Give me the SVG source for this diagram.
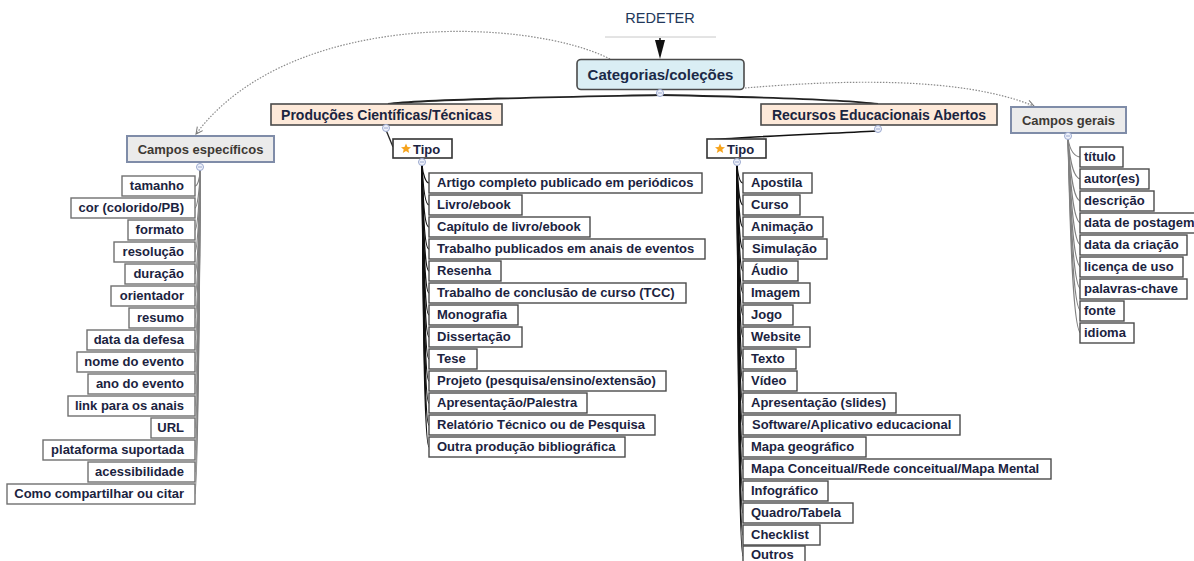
<svg xmlns="http://www.w3.org/2000/svg" width="1194" height="561" viewBox="0 0 1194 561">
<defs>
<style>
text{font-family:"Liberation Sans",Arial,sans-serif;}
.leaf rect{fill:#fff;stroke:#4a4a4a;stroke-width:1.4;}
.leaf text{font-size:13px;font-weight:bold;fill:#1b2340;}
.lt text{text-anchor:end;}
.lt rect{stroke:#707070;}
.hdr rect{fill:#fde9d9;stroke:#4a4a4a;stroke-width:1.6;}
.hdr text{font-size:14px;font-weight:bold;fill:#1a2440;text-anchor:middle;}
.cmp rect{fill:#ebebeb;stroke:#7f8ca8;stroke-width:2;}
.cmp text{font-size:13px;font-weight:bold;fill:#3d3934;text-anchor:middle;}
.tipo rect{fill:#fff;stroke:#333;stroke-width:1.6;}
.tipo text{font-size:13px;font-weight:bold;fill:#1b2340;}
.star{fill:#f6a31c;}
.knob{fill:#eef1fa;stroke:#9aa8cf;stroke-width:1;}
.knobm{stroke:#9aa8cf;stroke-width:1;}
.fg{fill:none;stroke:#808080;stroke-width:1.1;}
.fb{fill:none;stroke:#111;stroke-width:1.2;}
.dot{fill:none;stroke:#8a8a8a;stroke-width:1.2;stroke-dasharray:1.5 1.5;}
</style>
<marker id="ah" viewBox="0 0 10 10" refX="9" refY="5" markerWidth="7" markerHeight="7" orient="auto">
<path d="M1,1 L9,5 L1,9" fill="none" stroke="#777" stroke-width="1.2"/>
</marker>
</defs>

<g id="connectors">
<line x1="605" y1="37" x2="716" y2="37" stroke="#c8c8c8" stroke-width="1"/>
<path d="M660,38 L660,44" stroke="#111" stroke-width="1.5"/>
<path d="M655,40 L665,40 L660,59 Z" fill="#111"/>
<path class="dot" d="M610,59 C 530,18 290,8 196,134" marker-end="url(#ah)"/>
<path class="dot" d="M745,88 C 840,80 960,76 1034,106" marker-end="url(#ah)"/>
<path d="M660,95 C 560,97 420,99 388,104" fill="none" stroke="#222" stroke-width="1.8"/>
<path d="M660,95 C 760,97 850,100 878,104" fill="none" stroke="#222" stroke-width="1.8"/>
<path d="M386,130 L393,147" fill="none" stroke="#222" stroke-width="1.3"/>
<path d="M877,131 C 820,134 740,137 712,140" fill="none" stroke="#111" stroke-width="1.6"/>
<g id="fan-left">
<path class="fg" d="M200,170 C 200,180 197,186 195,186"/>
<path class="fg" d="M200,170 C 200,190 197,208 195,208"/>
<path class="fg" d="M200,170 C 200,200 197,230 195,230"/>
<path class="fg" d="M200,170 C 200,210 197,252 195,252"/>
<path class="fg" d="M200,170 C 200,220 197,274 195,274"/>
<path class="fg" d="M200,170 C 200,230 197,296 195,296"/>
<path class="fg" d="M200,170 C 200,240 197,318 195,318"/>
<path class="fg" d="M200,170 C 200,250 197,340 195,340"/>
<path class="fg" d="M200,170 C 200,260 197,362 195,362"/>
<path class="fg" d="M200,170 C 200,270 197,384 195,384"/>
<path class="fg" d="M200,170 C 200,280 197,406 195,406"/>
<path class="fg" d="M200,170 C 200,290 197,428 195,428"/>
<path class="fg" d="M200,170 C 200,300 197,450 195,450"/>
<path class="fg" d="M200,170 C 200,310 197,472 195,472"/>
<path class="fg" d="M200,170 C 200,320 197,494 195,494"/>
</g>
<g id="fan-prod">
<path class="fb" d="M422,165 C 423,175 426,183 429,183"/>
<path class="fb" d="M422,165 C 423,185 425,205 429,205"/>
<path class="fb" d="M422,165 C 423,195 424,227 429,227"/>
<path class="fb" d="M422,165 C 423,205 424,249 429,249"/>
<path class="fb" d="M422,165 C 423,215 424,271 429,271"/>
<path class="fb" d="M422,165 C 423,225 424,293 429,293"/>
<path class="fb" d="M422,165 C 423,235 424,315 429,315"/>
<path class="fb" d="M422,165 C 423,245 424,337 429,337"/>
<path class="fb" d="M422,165 C 423,255 424,359 429,359"/>
<path class="fb" d="M422,165 C 423,265 424,381 429,381"/>
<path class="fb" d="M422,165 C 423,275 424,403 429,403"/>
<path class="fb" d="M422,165 C 423,285 424,425 429,425"/>
<path class="fb" d="M422,165 C 423,295 424,447 429,447"/>
</g>
<g id="fan-rea">
<path class="fb" d="M737,165 C 738,175 740,183 743,183"/>
<path class="fb" d="M737,165 C 738,185 739,205 743,205"/>
<path class="fb" d="M737,165 C 738,195 739,227 743,227"/>
<path class="fb" d="M737,165 C 738,205 739,249 743,249"/>
<path class="fb" d="M737,165 C 738,215 739,271 743,271"/>
<path class="fb" d="M737,165 C 738,225 739,293 743,293"/>
<path class="fb" d="M737,165 C 738,235 739,315 743,315"/>
<path class="fb" d="M737,165 C 738,245 739,337 743,337"/>
<path class="fb" d="M737,165 C 738,255 739,359 743,359"/>
<path class="fb" d="M737,165 C 738,265 739,381 743,381"/>
<path class="fb" d="M737,165 C 738,275 739,403 743,403"/>
<path class="fb" d="M737,165 C 738,285 739,425 743,425"/>
<path class="fb" d="M737,165 C 738,295 739,447 743,447"/>
<path class="fb" d="M737,165 C 738,305 739,469 743,469"/>
<path class="fb" d="M737,165 C 738,315 739,491 743,491"/>
<path class="fb" d="M737,165 C 738,325 739,513 743,513"/>
<path class="fb" d="M737,165 C 738,335 739,535 743,535"/>
<path class="fb" d="M737,165 C 738,345 739,556 743,556"/>
</g>
<g id="fan-gerais">
<path class="fg" d="M1068,139 C 1070,150 1074,157 1081,157"/>
<path class="fg" d="M1068,139 C 1070,160 1073,179 1081,179"/>
<path class="fg" d="M1068,139 C 1070,170 1073,201 1081,201"/>
<path class="fg" d="M1068,139 C 1070,180 1073,223 1081,223"/>
<path class="fg" d="M1068,139 C 1070,190 1073,245 1081,245"/>
<path class="fg" d="M1068,139 C 1070,200 1073,267 1081,267"/>
<path class="fg" d="M1068,139 C 1070,210 1073,289 1081,289"/>
<path class="fg" d="M1068,139 C 1070,220 1073,311 1081,311"/>
<path class="fg" d="M1068,139 C 1070,230 1073,333 1081,333"/>
</g>
</g>

<g id="title"><text x="660" y="23" font-size="14.5" fill="#22385a" text-anchor="middle">REDETER</text></g>

<g id="categorias">
<rect x="577" y="59.5" width="167" height="30" rx="4" fill="#daeef4" stroke="#4a4a4a" stroke-width="1.6"/>
<text x="660.5" y="80" font-size="15" font-weight="bold" fill="#1a2a48" text-anchor="middle">Categorias/coleções</text>
<circle class="knob" cx="660" cy="93" r="3.5"/><line class="knobm" x1="658" y1="93" x2="662" y2="93"/>
</g>

<g id="producoes" class="hdr">
<rect x="271" y="104" width="231" height="21"/>
<text x="386.5" y="120">Produções Científicas/Técnicas</text>
<circle class="knob" cx="386" cy="128" r="3.5"/><line class="knobm" x1="384" y1="128" x2="388" y2="128"/>
</g>
<g id="recursos" class="hdr">
<rect x="761" y="104" width="236" height="21"/>
<text x="879" y="120">Recursos Educacionais Abertos</text>
<circle class="knob" cx="878" cy="129" r="3.5"/><line class="knobm" x1="876" y1="129" x2="880" y2="129"/>
</g>
<g id="campos-especificos" class="cmp">
<rect x="127" y="136" width="147" height="26"/>
<text x="200.5" y="154">Campos específicos</text>
<circle class="knob" cx="200" cy="167" r="3.5"/><line class="knobm" x1="198" y1="167" x2="202" y2="167"/>
</g>
<g id="campos-gerais" class="cmp">
<rect x="1011" y="107" width="115" height="26"/>
<text x="1068.5" y="125">Campos gerais</text>
<circle class="knob" cx="1068" cy="136" r="3.5"/><line class="knobm" x1="1066" y1="136" x2="1070" y2="136"/>
</g>
<g id="tipo-prod" class="tipo">
<rect x="393" y="139" width="59" height="19"/>
<path class="star" d="M406,143.5 L407.5,147 L411,147.3 L408.3,149.6 L409.2,153 L406,151.1 L402.8,153 L403.7,149.6 L401,147.3 L404.5,147 Z"/>
<text x="413" y="153.5">Tipo</text>
<circle class="knob" cx="422" cy="162" r="3.5"/><line class="knobm" x1="420" y1="162" x2="424" y2="162"/>
</g>
<g id="tipo-rea" class="tipo">
<rect x="707" y="139" width="59" height="19"/>
<path class="star" d="M720,143.5 L721.5,147 L725,147.3 L722.3,149.6 L723.2,153 L720,151.1 L716.8,153 L717.7,149.6 L715,147.3 L718.5,147 Z"/>
<text x="727" y="153.5">Tipo</text>
<circle class="knob" cx="737" cy="162" r="3.5"/><line class="knobm" x1="735" y1="162" x2="739" y2="162"/>
</g>

<g id="especificos-children" class="leaf lt">
<g id="e1"><rect x="122" y="176" width="73" height="20"/><text x="184" y="190">tamanho</text></g>
<g id="e2"><rect x="71" y="198" width="124" height="20"/><text x="184" y="212">cor (colorido/PB)</text></g>
<g id="e3"><rect x="128" y="220" width="67" height="20"/><text x="184" y="234">formato</text></g>
<g id="e4"><rect x="114" y="242" width="81" height="20"/><text x="184" y="256">resolução</text></g>
<g id="e5"><rect x="125" y="264" width="70" height="20"/><text x="184" y="278">duração</text></g>
<g id="e6"><rect x="111" y="286" width="84" height="20"/><text x="184" y="300">orientador</text></g>
<g id="e7"><rect x="129" y="308" width="66" height="20"/><text x="184" y="322">resumo</text></g>
<g id="e8"><rect x="87" y="330" width="108" height="20"/><text x="184" y="344">data da defesa</text></g>
<g id="e9"><rect x="77" y="352" width="118" height="20"/><text x="184" y="366">nome do evento</text></g>
<g id="e10"><rect x="88" y="374" width="107" height="20"/><text x="184" y="388">ano do evento</text></g>
<g id="e11"><rect x="68" y="396" width="127" height="20"/><text x="184" y="410">link para os anais</text></g>
<g id="e12"><rect x="151" y="418" width="44" height="20"/><text x="184" y="432">URL</text></g>
<g id="e13"><rect x="43" y="440" width="152" height="20"/><text x="184" y="454">plataforma suportada</text></g>
<g id="e14"><rect x="88" y="462" width="107" height="20"/><text x="184" y="476">acessibilidade</text></g>
<g id="e15"><rect x="7" y="484" width="188" height="20"/><text x="184" y="498">Como compartilhar ou citar</text></g>
</g>

<g id="producoes-children" class="leaf">
<g id="p1"><rect x="429" y="173" width="273" height="20"/><text x="437" y="187">Artigo completo publicado em periódicos</text></g>
<g id="p2"><rect x="429" y="195" width="93" height="20"/><text x="437" y="209">Livro/ebook</text></g>
<g id="p3"><rect x="429" y="217" width="161" height="20"/><text x="437" y="231">Capítulo de livro/ebook</text></g>
<g id="p4"><rect x="429" y="239" width="276" height="20"/><text x="437" y="253">Trabalho publicados em anais de eventos</text></g>
<g id="p5"><rect x="429" y="261" width="72" height="20"/><text x="437" y="275">Resenha</text></g>
<g id="p6"><rect x="429" y="283" width="257" height="20"/><text x="437" y="297">Trabalho de conclusão de curso (TCC)</text></g>
<g id="p7"><rect x="429" y="305" width="89" height="20"/><text x="437" y="319">Monografia</text></g>
<g id="p8"><rect x="429" y="327" width="93" height="20"/><text x="437" y="341">Dissertação</text></g>
<g id="p9"><rect x="429" y="349" width="48" height="20"/><text x="437" y="363">Tese</text></g>
<g id="p10"><rect x="429" y="371" width="237" height="20"/><text x="437" y="385">Projeto (pesquisa/ensino/extensão)</text></g>
<g id="p11"><rect x="429" y="393" width="158" height="20"/><text x="437" y="407">Apresentação/Palestra</text></g>
<g id="p12"><rect x="429" y="415" width="226" height="20"/><text x="437" y="429">Relatório Técnico ou de Pesquisa</text></g>
<g id="p13"><rect x="429" y="437" width="196" height="20"/><text x="437" y="451">Outra produção bibliográfica</text></g>
</g>

<g id="rea-children" class="leaf">
<g id="r1"><rect x="743" y="173" width="69" height="20"/><text x="751" y="187">Apostila</text></g>
<g id="r2"><rect x="743" y="195" width="57" height="20"/><text x="751" y="209">Curso</text></g>
<g id="r3"><rect x="743" y="217" width="80" height="20"/><text x="751" y="231">Animação</text></g>
<g id="r4"><rect x="743" y="239" width="84" height="20"/><text x="752" y="253">Simulação</text></g>
<g id="r5"><rect x="743" y="261" width="55" height="20"/><text x="751" y="275">Áudio</text></g>
<g id="r6"><rect x="743" y="283" width="67" height="20"/><text x="751" y="297">Imagem</text></g>
<g id="r7"><rect x="743" y="305" width="50" height="20"/><text x="751" y="319">Jogo</text></g>
<g id="r8"><rect x="743" y="327" width="67" height="20"/><text x="751" y="341">Website</text></g>
<g id="r9"><rect x="743" y="349" width="53" height="20"/><text x="751" y="363">Texto</text></g>
<g id="r10"><rect x="743" y="371" width="54" height="20"/><text x="751" y="385">Vídeo</text></g>
<g id="r11"><rect x="743" y="393" width="153" height="20"/><text x="751" y="407">Apresentação (slides)</text></g>
<g id="r12"><rect x="743" y="415" width="217" height="20"/><text x="752" y="429">Software/Aplicativo educacional</text></g>
<g id="r13"><rect x="743" y="437" width="123" height="20"/><text x="751" y="451">Mapa geográfico</text></g>
<g id="r14"><rect x="743" y="459" width="308" height="20"/><text x="751" y="473">Mapa Conceitual/Rede conceitual/Mapa Mental</text></g>
<g id="r15"><rect x="743" y="481" width="85" height="20"/><text x="751" y="495">Infográfico</text></g>
<g id="r16"><rect x="743" y="503" width="110" height="20"/><text x="751" y="517">Quadro/Tabela</text></g>
<g id="r17"><rect x="743" y="525" width="77" height="20"/><text x="751" y="539">Checklist</text></g>
<g id="r18"><rect x="743" y="546" width="62" height="20"/><text x="751" y="559">Outros</text></g>
</g>

<g id="gerais-children" class="leaf">
<g id="g1"><rect x="1080" y="147" width="43" height="20"/><text x="1084" y="161">título</text></g>
<g id="g2"><rect x="1080" y="169" width="69" height="20"/><text x="1084" y="183">autor(es)</text></g>
<g id="g3"><rect x="1080" y="191" width="74" height="20"/><text x="1084" y="205">descrição</text></g>
<g id="g4"><rect x="1080" y="213" width="118" height="20"/><text x="1084" y="227">data de postagem</text></g>
<g id="g5"><rect x="1080" y="235" width="107" height="20"/><text x="1084" y="249">data da criação</text></g>
<g id="g6"><rect x="1080" y="257" width="103" height="20"/><text x="1084" y="271">licença de uso</text></g>
<g id="g7"><rect x="1080" y="279" width="107" height="20"/><text x="1084" y="293">palavras-chave</text></g>
<g id="g8"><rect x="1080" y="301" width="44" height="20"/><text x="1084" y="315">fonte</text></g>
<g id="g9"><rect x="1080" y="323" width="54" height="20"/><text x="1084" y="337">idioma</text></g>
</g>
</svg>
